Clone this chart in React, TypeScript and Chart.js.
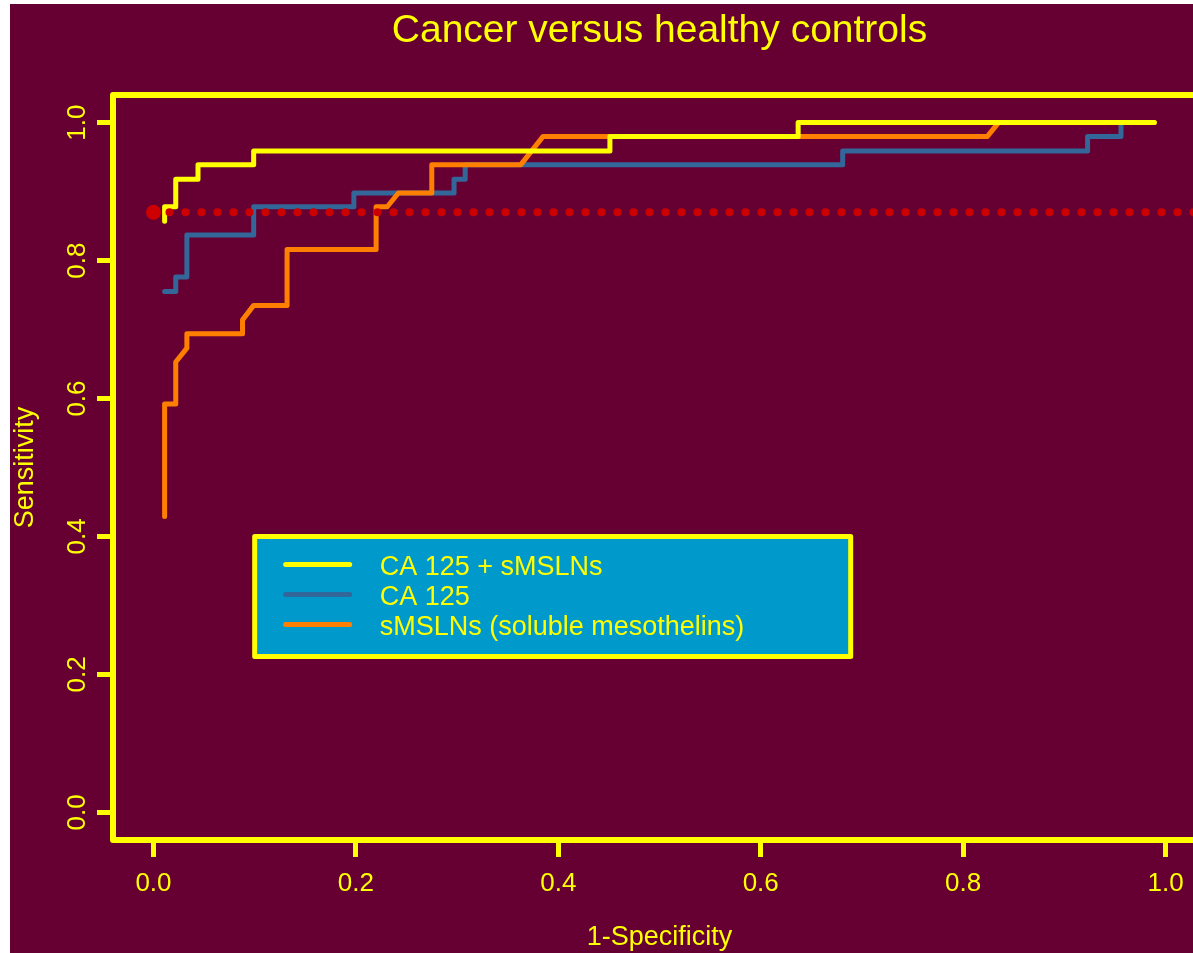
import React, { useEffect, useRef } from 'react';
import { Chart, registerables } from 'chart.js';

Chart.register(...registerables);

// ---- data ----
const xTicks = [0, 0.2, 0.4, 0.6, 0.8, 1.0];
const xTickLabels = ['0.0', '0.2', '0.4', '0.6', '0.8', '1.0'];
const yTicks = [0, 0.2, 0.4, 0.6, 0.8, 1.0];
const yTickLabels = ['0.0', '0.2', '0.4', '0.6', '0.8', '1.0'];
const xRange = [-0.04, 1.04];
const yRange = [-0.04, 1.04];

const seriesLabels = ['CA 125 + sMSLNs', 'CA 125', 'sMSLNs (soluble mesothelins)'];

const comboFpr = [0.011, 0.011, 0.022, 0.022, 0.044, 0.044, 0.099, 0.099, 0.451, 0.451, 0.637, 0.637, 0.989];
const comboTpr = [0.857, 0.878, 0.878, 0.918, 0.918, 0.939, 0.939, 0.959, 0.959, 0.980, 0.980, 1.000, 1.000];

const ca125Fpr = [0.011, 0.022, 0.022, 0.033, 0.033, 0.099, 0.099, 0.198, 0.198, 0.297, 0.297, 0.308, 0.308, 0.681, 0.681, 0.923, 0.923, 0.956, 0.956];
const ca125Tpr = [0.755, 0.755, 0.776, 0.776, 0.837, 0.837, 0.878, 0.878, 0.898, 0.898, 0.918, 0.918, 0.939, 0.939, 0.959, 0.959, 0.980, 0.980, 1.000];

const smslnFpr = [0.011, 0.011, 0.022, 0.022, 0.033, 0.033, 0.088, 0.088, 0.099, 0.132, 0.132, 0.220, 0.220, 0.231, 0.242, 0.275, 0.275, 0.363, 0.385, 0.824, 0.835, 0.989];
const smslnTpr = [0.429, 0.592, 0.592, 0.653, 0.673, 0.694, 0.694, 0.714, 0.735, 0.735, 0.816, 0.816, 0.878, 0.878, 0.898, 0.898, 0.939, 0.939, 0.980, 0.980, 1.000, 1.000];

const cutoffFpr = [0, 1.04];
const cutoffSensitivity = [0.87, 0.87];
const cutoffPointFpr = [0];
const cutoffPointTpr = [0.87];

// ---- styles ----
const BG = '#660033';
const YELLOW = '#FFFF00';
const BLUE = '#336699';
const ORANGE = '#FF8000';
const RED = '#CC0000';
const LEGEND_BG = '#0099CC';
const FONT = "'Liberation Sans', Arial, sans-serif";
const seriesColors = [YELLOW, BLUE, ORANGE];

const toPts = (xs: number[], ys: number[]) => xs.map((x, i) => ({ x, y: ys[i] }));

const decorPlugin = {
  id: 'decor',
  afterDraw(chart: any) {
    const { ctx, chartArea } = chart;
    const xs = chart.scales.x;
    const ys = chart.scales.y;
    ctx.save();
    // plot box
    ctx.strokeStyle = YELLOW;
    ctx.lineWidth = 6;
    ctx.lineJoin = 'round';
    ctx.strokeRect(chartArea.left, chartArea.top, chartArea.right - chartArea.left, chartArea.bottom - chartArea.top);
    // title
    ctx.fillStyle = YELLOW;
    ctx.font = `39px ${FONT}`;
    ctx.textAlign = 'center';
    ctx.textBaseline = 'alphabetic';
    ctx.fillText('Cancer versus healthy controls', (chartArea.left + chartArea.right) / 2, 38);
    // legend
    const lx = xs.getPixelForValue(0.1);
    const ly = ys.getPixelForValue(0.4);
    const lw = 596;
    const lh = 120;
    ctx.fillStyle = LEGEND_BG;
    ctx.fillRect(lx, ly, lw, lh);
    ctx.strokeStyle = YELLOW;
    ctx.lineWidth = 5;
    ctx.strokeRect(lx, ly, lw, lh);
    ctx.lineCap = 'round';
    ctx.font = `27px ${FONT}`;
    ctx.textAlign = 'left';
    ctx.textBaseline = 'middle';
    seriesLabels.forEach((label, i) => {
      const yy = ly + 28 + i * 30;
      ctx.strokeStyle = seriesColors[i];
      ctx.lineWidth = 5;
      ctx.beginPath();
      ctx.moveTo(lx + 31, yy);
      ctx.lineTo(lx + 95, yy);
      ctx.stroke();
      ctx.fillStyle = YELLOW;
      ctx.fillText(label, lx + 125, yy + 3);
    });
    ctx.restore();
  },
};

export default function App() {
  const ref = useRef<HTMLCanvasElement | null>(null);

  useEffect(() => {
    if (!ref.current) return;
    const lineCommon = {
      borderWidth: 5,
      borderCapStyle: 'round',
      borderJoinStyle: 'round',
      pointRadius: 0,
      tension: 0,
      fill: false,
    };
    const chart = new Chart(ref.current, {
      type: 'line',
      data: {
        datasets: [
          { ...lineCommon, label: seriesLabels[0], data: toPts(comboFpr, comboTpr), borderColor: YELLOW, order: 2 },
          { ...lineCommon, label: seriesLabels[1], data: toPts(ca125Fpr, ca125Tpr), borderColor: BLUE, order: 4 },
          { ...lineCommon, label: seriesLabels[2], data: toPts(smslnFpr, smslnTpr), borderColor: ORANGE, order: 3 },
          {
            label: 'cutoff',
            data: toPts(cutoffFpr, cutoffSensitivity),
            borderColor: RED,
            borderWidth: 8,
            borderCapStyle: 'round',
            borderDash: [0, 16],
            pointRadius: 0,
            order: 1,
          },
          {
            label: 'cutoff point',
            data: toPts(cutoffPointFpr, cutoffPointTpr),
            showLine: false,
            pointRadius: 7.5,
            pointBackgroundColor: RED,
            pointBorderWidth: 0,
            borderColor: RED,
            order: 0,
          },
        ] as any,
      },
      options: {
        animation: false,
        responsive: false,
        devicePixelRatio: 1,
        layout: { padding: { top: 91, right: 14, bottom: 0, left: 0 } },
        plugins: { legend: { display: false }, tooltip: { enabled: false }, title: { display: false } },
        scales: {
          x: {
            type: 'linear',
            min: xRange[0],
            max: xRange[1],
            afterBuildTicks: (s: any) => { s.ticks = xTicks.map((v) => ({ value: v })); },
            afterFit: (s: any) => { s.height = 113; },
            border: { display: false },
            grid: { display: true, drawOnChartArea: false, drawTicks: true, tickLength: 17, tickWidth: 5, tickColor: YELLOW },
            ticks: {
              color: YELLOW,
              font: { family: FONT, size: 26 },
              padding: 11,
              maxRotation: 0,
              autoSkip: false,
              callback: (v: any) => xTickLabels[xTicks.indexOf(Number(v))] ?? '',
            },
            title: {
              display: true,
              text: '1-Specificity',
              color: YELLOW,
              font: { family: FONT, size: 27, lineHeight: 1 },
              padding: { top: 0, bottom: 1.5 },
            },
          },
          y: {
            type: 'linear',
            min: yRange[0],
            max: yRange[1],
            afterBuildTicks: (s: any) => { s.ticks = yTicks.map((v) => ({ value: v })); },
            afterFit: (s: any) => { s.width = 103; },
            border: { display: false },
            grid: { display: true, drawOnChartArea: false, drawTicks: true, tickLength: 16, tickWidth: 5, tickColor: YELLOW },
            ticks: {
              color: YELLOW,
              font: { family: FONT, size: 26 },
              padding: 1,
              minRotation: 90,
              maxRotation: 90,
              crossAlign: 'center',
              autoSkip: false,
              callback: (v: any) => yTickLabels[yTicks.indexOf(Number(v))] ?? '',
            },
            title: {
              display: true,
              text: 'Sensitivity',
              color: YELLOW,
              font: { family: FONT, size: 27, lineHeight: 1 },
              padding: { top: 2.5, bottom: 0 },
            },
          },
        },
      } as any,
      plugins: [decorPlugin],
    });
    return () => chart.destroy();
  }, []);

  return (
    <div
      style={{
        position: 'absolute',
        left: 10,
        top: 4,
        width: 1183,
        height: 949,
        overflow: 'hidden',
        background: BG,
      }}
    >
      <canvas ref={ref} width={1210} height={949} style={{ display: 'block' }} />
    </div>
  );
}
